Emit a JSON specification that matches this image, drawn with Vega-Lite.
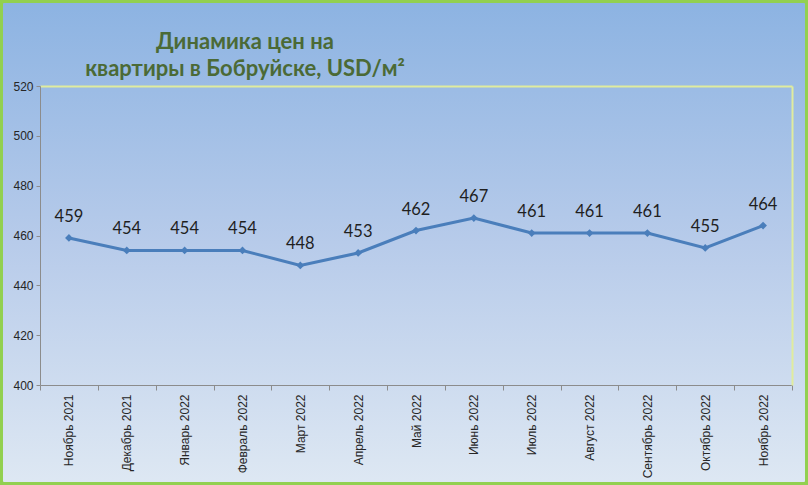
{
  "$schema": "https://vega.github.io/schema/vega-lite/v6.json",
  "width": 808,
  "height": 485,
  "autosize": {"type": "none"},
  "padding": 0,
  "background": "#dce6f2",
  "title": {
    "text": ["Динамика цен на", "квартиры в Бобруйске, USD/м²"],
    "anchor": "start",
    "align": "center",
    "dx": 245,
    "frame": "group",
    "offset": -81,
    "font": "Lato",
    "fontSize": 22,
    "fontWeight": "bold",
    "color": "#4b6a36",
    "lineHeight": 27
  },
  "data": {
    "values": [
      {"m": "Ноябрь 2021", "v": 459},
      {"m": "Декабрь 2021", "v": 454},
      {"m": "Январь 2022", "v": 454},
      {"m": "Февраль 2022", "v": 454},
      {"m": "Март 2022", "v": 448},
      {"m": "Апрель 2022", "v": 453},
      {"m": "Май 2022", "v": 462},
      {"m": "Июнь 2022", "v": 467},
      {"m": "Июль 2022", "v": 461},
      {"m": "Август 2022", "v": 461},
      {"m": "Сентябрь 2022", "v": 461},
      {"m": "Октябрь 2022", "v": 455},
      {"m": "Ноябрь 2022", "v": 464}
    ]
  },
  "layer": [
    {
      "mark": {
        "type": "line",
        "color": "#4a7ebb",
        "strokeWidth": 3,
        "point": {"shape": "diamond", "size": 60, "filled": true, "color": "#4a7ebb"}
      },
      "encoding": {
        "x": {
          "field": "m", "type": "ordinal", "sort": null,
          "scale": {"type": "band", "range": [40, 792], "paddingInner": 0, "paddingOuter": 0},
          "axis": {
            "orient": "bottom", "offset": -100, "title": null,
            "labelAngle": -90, "labelFont": "Liberation Sans", "labelFontSize": 12,
            "labelColor": "#262626", "labelPadding": 4, "tickBand": "extent",
            "tickSize": 5, "tickColor": "#8c8c8c", "domainColor": "#8c8c8c", "grid": false
          }
        },
        "y": {
          "field": "v", "type": "quantitative",
          "scale": {"domain": [400, 520], "range": [385, 86], "nice": false, "zero": false},
          "axis": {
            "orient": "left", "offset": -40, "title": null,
            "values": [400, 420, 440, 460, 480, 500, 520],
            "labelFont": "Liberation Sans", "labelFontSize": 12, "labelColor": "#262626",
            "labelPadding": 3, "tickSize": 4, "tickColor": "#8c8c8c", "domainColor": "#8c8c8c", "grid": false
          }
        }
      }
    },
    {
      "mark": {"type": "text", "baseline": "alphabetic", "dy": -16, "font": "Lato", "fontSize": 16.5, "color": "#1f1f1f"},
      "encoding": {
        "x": {
          "field": "m", "type": "ordinal", "sort": null,
          "axis": {"orient": "top", "offset": -86, "title": null, "labels": false, "ticks": false, "grid": false, "domainColor": "#e0ec9e", "domainWidth": 2}
        },
        "y": {
          "field": "v", "type": "quantitative",
          "axis": {"orient": "right", "offset": -16, "title": null, "labels": false, "ticks": false, "grid": false, "domainColor": "#e0ec9e", "domainWidth": 2}
        },
        "text": {"field": "v", "type": "quantitative"}
      }
    }
  ],
  "resolve": {"axis": {"x": "independent", "y": "independent"}},
  "config": {
    "view": {
      "fill": {
        "gradient": "linear", "x1": 0, "y1": 0, "x2": 0, "y2": 1,
        "stops": [
          {"offset": 0, "color": "#8cb3e2"},
          {"offset": 0.5, "color": "#b7cbea"},
          {"offset": 1, "color": "#dee8f3"}
        ]
      },
      "stroke": "#92d050",
      "strokeWidth": 6,
      "cornerRadius": 4
    }
  }
}
